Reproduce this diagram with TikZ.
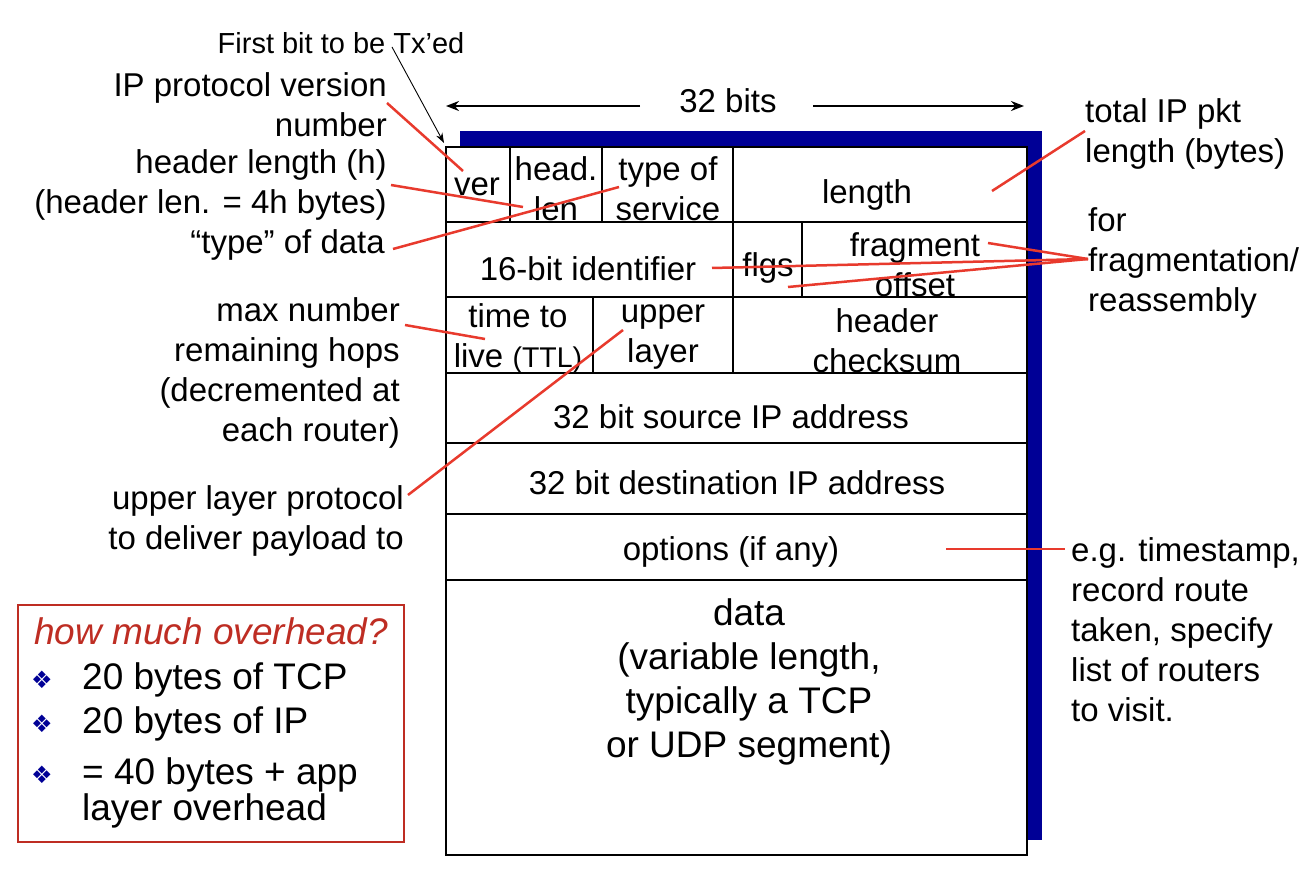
\documentclass[tikz,border=0pt]{standalone}
\usepackage{fontspec}
\setmainfont{Liberation Sans}
\newfontfamily\symfont{DejaVu Sans}
\usetikzlibrary{arrows.meta}
\definecolor{navy}{RGB}{0,0,150}
\definecolor{lred}{RGB}{232,58,45}
\definecolor{boxred}{RGB}{190,45,35}
\begin{document}
\begin{tikzpicture}[x=1pt,y=-1pt,
  txt/.style={font=\fontsize{33}{40}\selectfont, inner sep=0pt, yshift=-3pt},
  cell/.style={txt, align=center},
  lbl/.style={txt, align=right, anchor=east},
  rlbl/.style={txt, align=left, anchor=west},
  redline/.style={draw=lred, line width=2.5pt},
  grid/.style={draw=black, line width=2.2pt},
  blk/.style={font=\fontsize{37}{40}\selectfont, inner sep=0pt, anchor=west, align=left, yshift=-4pt},
  bul/.style={font=\symfont\fontsize{24}{26}\selectfont, text=navy, inner sep=0pt},
  bitarrow/.style={-{Stealth[length=13pt,width=10pt]}, line width=2pt},
]
\useasboundingbox (0,0) rectangle (1316,874);
% header box with shadow
\fill[navy] (460,131) rectangle (1042,840);
\filldraw[fill=white, grid] (446,147) rectangle (1027,855);
\foreach \y in {222,297,373,443,514,580} \draw[grid] (446,\y) -- (1027,\y);
\foreach \x in {510,602,733} \draw[grid] (\x,147) -- (\x,222);
\foreach \x in {733,802} \draw[grid] (\x,222) -- (\x,297);
\foreach \x in {593,733} \draw[grid] (\x,297) -- (\x,373);

% cell texts
\node[cell] (ver) at (477,184) {ver};
\node[cell] (hlen) at (556,186) {head.\\len};
\node[cell] (tos) at (668,186) {type of\\service};
\node[cell] (len) at (867,192) {length};
\node[cell] (ident) at (588,266) {16-bit identifier};
\node[cell] (flgs) at (768,265) {flgs};
\node[cell] (frag) at (915,262) {fragment\\offset};
\node[cell] (ttl) at (518,335) {time to\\live {\fontsize{28.5}{30}\selectfont(TTL)}};
\node[cell] (upper) at (663,334) {upper\\layer};
\node[cell] (cksum) at (887,338) {header\\checksum};
\node[cell] (src) at (731,414) {32 bit source IP address};
\node[cell] (dst) at (737,480) {32 bit destination IP address};
\node[cell] (opt) at (731,549) {options (if any)};
\node[cell, font=\fontsize{37}{44}\selectfont] (data) at (749,679) {data\\(variable length,\\typically a TCP\\or UDP segment)};

% top annotations
\node[txt, font=\fontsize{29}{34}\selectfont, yshift=2pt] (first) at (341,42) {First bit to be Tx’ed};
\coordinate (firstS) at (392,47);
\coordinate (firstE) at (444,143);
\draw[-{Stealth[length=10pt,width=7pt]}, line width=0.9pt] (firstS) -- (firstE);
\node[txt] (bits) at (728,98) {32 bits};
\coordinate (bitsLs) at (640,106);
\coordinate (bitsLe) at (446,106);
\coordinate (bitsRs) at (813,106);
\coordinate (bitsRe) at (1024,106);
\draw[bitarrow] (bitsLs) -- (bitsLe);
\draw[bitarrow] (bitsRs) -- (bitsRe);

% left labels
\node[lbl] (ipver) at (387,102) {IP protocol version\\number};
\node[lbl] (hdrlen) at (387,182) {header length (h)\\(header len. = 4h bytes)};
\node[lbl] (type) at (385,242) {“type” of data};
\node[lbl] (maxhops) at (400,370) {max number\\remaining hops\\(decremented at\hspace*{0.3em}\\each router)};
\node[lbl] (ulp) at (404,518) {upper layer protocol\\to deliver payload to};

% right labels
\node[rlbl] (total) at (1085,131) {total IP pkt\\length (bytes)};
\node[rlbl, yshift=-2pt] (fragl) at (1088,258) {for\\fragmentation/\\reassembly};
\node[rlbl] (optl) at (1071,627) {e.g. timestamp,\\record route\\taken, specify\\list of routers\\to visit.};

% red connectors
\coordinate (c1s) at (387,103); \coordinate (c1e) at (463,171);
\coordinate (c2s) at (391,185); \coordinate (c2e) at (523,207);
\coordinate (c3s) at (393,249); \coordinate (c3e) at (619,187);
\coordinate (c4s) at (1085,131); \coordinate (c4e) at (992,191);
\coordinate (c5s) at (1088,259); \coordinate (c5a) at (988,243);
\coordinate (c5b) at (712,268); \coordinate (c5c) at (788,287);
\coordinate (c6s) at (405,325); \coordinate (c6e) at (485,339);
\coordinate (c7s) at (408,495); \coordinate (c7e) at (623,330);
\coordinate (c8s) at (946,549); \coordinate (c8e) at (1065,549);
\draw[redline] (c1s) -- (c1e);
\draw[redline] (c2s) -- (c2e);
\draw[redline] (c3s) -- (c3e);
\draw[redline] (c4s) -- (c4e);
\draw[redline] (c5s) -- (c5a);
\draw[redline] (c5s) -- (c5b);
\draw[redline] (c5s) -- (c5c);
\draw[redline] (c6s) -- (c6e);
\draw[redline] (c7s) -- (c7e);
\draw[redline] (c8s) -- (c8e);

% overhead box
\node[draw=boxred, line width=1.5pt, minimum width=386pt, minimum height=237pt, inner sep=0pt] (ohbox) at (211,723.5) {};
\node[blk, text=boxred, font=\fontsize{37}{40}\selectfont\itshape, yshift=3pt] (ohq) at (34,630) {how much overhead?};
\node[bul] (b1) at (42,680) {❖};
\node[bul] (b2) at (42,724) {❖};
\node[bul] (b3) at (42,775) {❖};
\node[blk] (t1) at (82,676) {20 bytes of TCP};
\node[blk] (t2) at (82,720) {20 bytes of IP};
\node[blk, font=\fontsize{37}{36}\selectfont] (t3) at (82,789) {= 40 bytes + app\\layer overhead};
\end{tikzpicture}
\end{document}
